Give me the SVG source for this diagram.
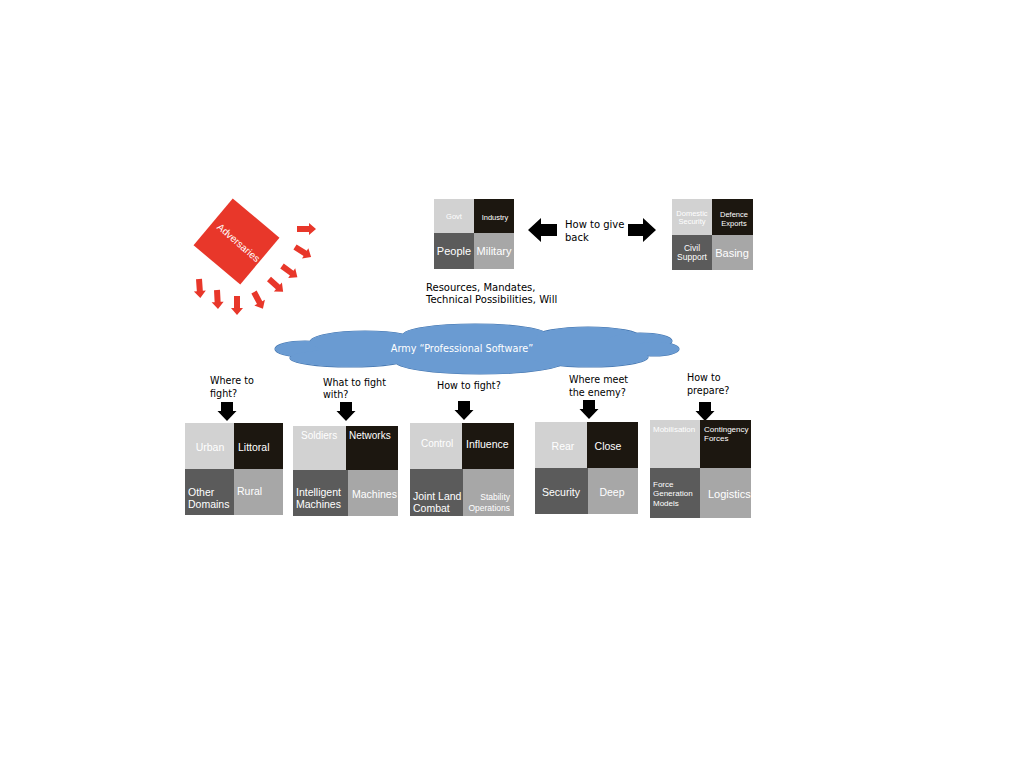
<svg xmlns="http://www.w3.org/2000/svg" xmlns:xlink="http://www.w3.org/1999/xlink" width="1024" height="768" viewBox="0 0 1024 768">
<style>
.lt{fill:#d2d2d2}
.bk{fill:#1c1710}
.dk{fill:#5b5b5b}
.md{fill:#a7a7a7}
.cw{font-family:"Liberation Sans",Arial,sans-serif;fill:#ffffff}
.q{font-family:"DejaVu Sans",Verdana,sans-serif;font-size:9.6px;fill:#000000}
.red{fill:#e8372a}
.blk{fill:#000000}
.cl{fill:#6a9bd2}
.cls{fill:none;stroke:#4677b0;stroke-width:1.2}
</style>
<defs>
<path id="ra" d="M0,-3 H12 V-6 L19,0 L12,6 V3 H0 Z"/>
<path id="da" d="M-6,0 H6 V9 H9.5 L0,19 L-9.5,9 H-6 Z"/>
</defs>
<rect width="1024" height="768" fill="#ffffff"/>

<g id="adversaries">
<rect class="red" x="-30.5" y="-30.5" width="61" height="61" transform="translate(236.5,241.5) rotate(40)"/>
<text class="cw" font-size="10" text-anchor="middle" transform="translate(236.3,245.3) rotate(41)">Adversaries</text>
<g class="red">
<use xlink:href="#ra" transform="translate(297,229) rotate(0)"/>
<use xlink:href="#ra" transform="translate(295,247) rotate(32)"/>
<use xlink:href="#ra" transform="translate(282,266) rotate(36)"/>
<use xlink:href="#ra" transform="translate(269,279) rotate(42)"/>
<use xlink:href="#ra" transform="translate(254,292) rotate(62)"/>
<use xlink:href="#ra" transform="translate(237,296) rotate(90)"/>
<use xlink:href="#ra" transform="translate(217,290) rotate(87)"/>
<use xlink:href="#ra" transform="translate(199,279) rotate(86)"/>
</g>
</g>

<g id="society">
<rect class="lt" x="434" y="199" width="40" height="34"/>
<rect class="bk" x="474" y="199" width="40" height="34"/>
<rect class="dk" x="434" y="233" width="40" height="36"/>
<rect class="md" x="474" y="233" width="40" height="36"/>
<text class="cw" font-size="7.5" x="454" y="219" text-anchor="middle">Govt</text>
<text class="cw" font-size="7.5" x="495" y="220" text-anchor="middle">Industry</text>
<text class="cw" font-size="11" x="454" y="255" text-anchor="middle">People</text>
<text class="cw" font-size="11" x="494" y="255" text-anchor="middle">Military</text>
</g>

<g id="giveback">
<rect class="lt" x="672" y="199" width="40" height="36"/>
<rect class="bk" x="712" y="199" width="41" height="36"/>
<rect class="dk" x="672" y="235" width="40" height="35"/>
<rect class="md" x="712" y="235" width="41" height="35"/>
<text class="cw" font-size="7.5" x="692" y="216" text-anchor="middle">Domestic</text>
<text class="cw" font-size="7.5" x="692" y="224" text-anchor="middle">Security</text>
<text class="cw" font-size="7.5" x="734" y="217" text-anchor="middle">Defence</text>
<text class="cw" font-size="7.5" x="734" y="226" text-anchor="middle">Exports</text>
<text class="cw" font-size="8.5" x="692" y="251" text-anchor="middle">Civil</text>
<text class="cw" font-size="8.5" x="692" y="260" text-anchor="middle">Support</text>
<text class="cw" font-size="11" x="732" y="257" text-anchor="middle">Basing</text>
</g>

<g id="connectors">
<path class="blk" d="M528,230 L541,218 V224 H557 V236 H541 V242 Z"/>
<path class="blk" d="M656,230 L643,218 V224 H628 V236 H643 V242 Z"/>
<g class="blk">
<use xlink:href="#da" x="227" y="402"/>
<use xlink:href="#da" x="346" y="402"/>
<use xlink:href="#da" x="464" y="401"/>
<use xlink:href="#da" x="589" y="400"/>
<use xlink:href="#da" x="705" y="402"/>
</g>
</g>

<g id="labels">
<text class="q" x="565" y="228" style="font-size:10px">How to give</text>
<text class="q" x="565" y="241" style="font-size:10px">back</text>
<text class="q" x="426" y="291" style="font-size:10px">Resources, Mandates,</text>
<text class="q" x="426" y="303" style="font-size:10px">Technical Possibilities, Will</text>
</g>

<g id="cloud">
<g class="cls">
<ellipse cx="305" cy="349" rx="30" ry="8"/>
<ellipse cx="365" cy="342" rx="55" ry="11"/>
<ellipse cx="475" cy="335" rx="72" ry="11"/>
<ellipse cx="588" cy="337" rx="52" ry="10"/>
<ellipse cx="640" cy="341" rx="32" ry="8"/>
<ellipse cx="655" cy="349" rx="24" ry="7"/>
<ellipse cx="350" cy="358" rx="60" ry="9"/>
<ellipse cx="480" cy="361" rx="85" ry="13"/>
<ellipse cx="590" cy="357" rx="58" ry="10"/>
</g>
<g class="cl">
<ellipse cx="305" cy="349" rx="30" ry="8"/>
<ellipse cx="365" cy="342" rx="55" ry="11"/>
<ellipse cx="475" cy="335" rx="72" ry="11"/>
<ellipse cx="588" cy="337" rx="52" ry="10"/>
<ellipse cx="640" cy="341" rx="32" ry="8"/>
<ellipse cx="655" cy="349" rx="24" ry="7"/>
<ellipse cx="350" cy="358" rx="60" ry="9"/>
<ellipse cx="480" cy="361" rx="85" ry="13"/>
<ellipse cx="590" cy="357" rx="58" ry="10"/>
<rect x="320" y="340" width="320" height="18"/>
</g>
<text x="462" y="352" text-anchor="middle" font-family="DejaVu Sans,Verdana,sans-serif" font-size="9.7" fill="#ffffff">Army “Professional Software”</text>
</g>

<g id="where">
<text class="q" x="210" y="384">Where to</text>
<text class="q" x="210" y="397">fight?</text>
<rect class="lt" x="185" y="423" width="49" height="46"/>
<rect class="bk" x="234" y="423" width="49" height="46"/>
<rect class="dk" x="185" y="469" width="49" height="46"/>
<rect class="md" x="234" y="469" width="49" height="46"/>
<text class="cw" font-size="10.5" x="210" y="451" text-anchor="middle">Urban</text>
<text class="cw" font-size="10.5" x="238" y="451">Littoral</text>
<text class="cw" font-size="10.5" x="188" y="496">Other</text>
<text class="cw" font-size="10.5" x="188" y="508">Domains</text>
<text class="cw" font-size="10.5" x="237" y="495">Rural</text>
</g>

<g id="whatwith">
<text class="q" x="323" y="386">What to fight</text>
<text class="q" x="323" y="398">with?</text>
<rect class="lt" x="293" y="426" width="53" height="44"/>
<rect class="bk" x="346" y="426" width="52" height="44"/>
<rect class="dk" x="293" y="470" width="55" height="46"/>
<rect class="md" x="348" y="470" width="50" height="46"/>
<text class="cw" font-size="10" x="301" y="439">Soldiers</text>
<text class="cw" font-size="10" x="349" y="439">Networks</text>
<text class="cw" font-size="10.5" x="296" y="496">Intelligent</text>
<text class="cw" font-size="10.5" x="296" y="508">Machines</text>
<text class="cw" font-size="10.5" x="352" y="498">Machines</text>
</g>

<g id="howfight">
<text class="q" x="437" y="389">How to fight?</text>
<rect class="lt" x="410" y="423" width="52" height="46"/>
<rect class="bk" x="462" y="423" width="52" height="46"/>
<rect class="dk" x="410" y="469" width="53" height="47"/>
<rect class="md" x="463" y="469" width="51" height="47"/>
<text class="cw" font-size="10" x="421" y="447">Control</text>
<text class="cw" font-size="10.5" x="466" y="448">Influence</text>
<text class="cw" font-size="10.5" x="413" y="500">Joint Land</text>
<text class="cw" font-size="10.5" x="413" y="512">Combat</text>
<text class="cw" font-size="8.5" x="510" y="500" text-anchor="end">Stability</text>
<text class="cw" font-size="8.5" x="510" y="511" text-anchor="end">Operations</text>
</g>

<g id="wheremeet">
<text class="q" x="569" y="383">Where meet</text>
<text class="q" x="569" y="396">the enemy?</text>
<rect class="lt" x="535" y="422" width="52" height="46"/>
<rect class="bk" x="587" y="422" width="51" height="46"/>
<rect class="dk" x="535" y="468" width="53" height="46"/>
<rect class="md" x="588" y="468" width="50" height="46"/>
<text class="cw" font-size="10.5" x="563" y="450" text-anchor="middle">Rear</text>
<text class="cw" font-size="10.5" x="608" y="450" text-anchor="middle">Close</text>
<text class="cw" font-size="10.5" x="561" y="496" text-anchor="middle">Security</text>
<text class="cw" font-size="10.5" x="612" y="496" text-anchor="middle">Deep</text>
</g>

<g id="prepare">
<text class="q" x="687" y="381">How to</text>
<text class="q" x="687" y="394">prepare?</text>
<rect class="lt" x="650" y="420" width="50" height="48"/>
<rect class="bk" x="700" y="420" width="51" height="48"/>
<rect class="dk" x="650" y="468" width="50" height="50"/>
<rect class="md" x="700" y="468" width="51" height="50"/>
<text class="cw" font-size="8" x="653" y="432">Mobilisation</text>
<text class="cw" font-size="8" x="704" y="432">Contingency</text>
<text class="cw" font-size="8" x="704" y="441">Forces</text>
<text class="cw" font-size="8" x="653" y="487">Force</text>
<text class="cw" font-size="8" x="653" y="496">Generation</text>
<text class="cw" font-size="8" x="653" y="506">Models</text>
<text class="cw" font-size="11" x="708" y="498">Logistics</text>
</g>
</svg>
